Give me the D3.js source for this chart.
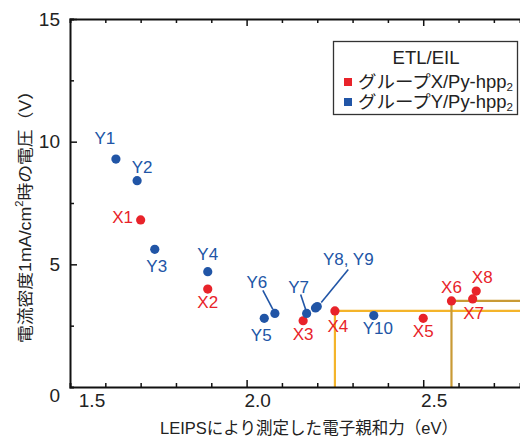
<!DOCTYPE html>
<html>
<head>
<meta charset="utf-8">
<script src="https://cdn.jsdelivr.net/npm/d3@7/dist/d3.min.js"></script>
<style>
  html, body { margin: 0; padding: 0; background: #fff; }
  svg { display: block; }
  text { font-family: "Liberation Sans", Arial, "Noto Sans CJK JP", sans-serif; }
</style>
</head>
<body>
<div id="chart"></div>
<script>
// ---------- data ----------
const pointNames   = ["Y1","Y2","X1","Y3","Y4","X2","Y5","Y6","X3","Y7","Y8","Y9","X4","Y10","X5","X6","X7","X8"];
const pointGroups  = ["Y","Y","X","Y","Y","X","Y","Y","X","Y","Y","Y","X","Y","X","X","X","X"];
const electronAffinity = [1.63,1.69,1.70,1.74,1.89,1.89,2.05,2.08,2.16,2.17,2.195,2.20,2.25,2.36,2.50,2.58,2.64,2.65];
const voltageAt1mA     = [9.29,8.41,6.81,5.61,4.70,3.99,2.80,3.00,2.70,3.00,3.22,3.28,3.10,2.91,2.80,3.51,3.59,3.91];
const xTicksMajor = [1.5, 2.0, 2.5];
const xTickLabels = ["1.5", "2.0", "2.5"];
const yTicksMajor = [0, 5, 10, 15];
const yTickLabels = ["0", "5", "10", "15"];
const legendTitle = "ETL/EIL";
const legendGroups = ["X", "Y"];
const legendNames  = ["グループX/Py-hpp", "グループY/Py-hpp"];
const guidePoints  = ["X4", "X6"];

// ---------- layout / style ----------
const W = 520, H = 441;
const colors = { X: "#e8232a", Y: "#2155a6" };
const guideColors = { X4: "#f4b42a", X6: "#c99a35" };
const annot = [
  { text: "Y1", at: "Y1", dx: -11, dy: -21 },
  { text: "Y2", at: "Y2", dx: 5, dy: -13 },
  { text: "X1", at: "X1", dx: -18, dy: -2 },
  { text: "Y3", at: "Y3", dx: 2, dy: 17 },
  { text: "Y4", at: "Y4", dx: 0, dy: -17 },
  { text: "X2", at: "X2", dx: 0, dy: 13 },
  { text: "Y5", at: "Y5", dx: -3, dy: 17 },
  { text: "Y6", at: "Y6", dx: -18, dy: -31, leader: [-2, -4, -12, -23] },
  { text: "Y7", at: "Y7", dx: -8, dy: -26, leader: [-1, -4, -6, -19] },
  { text: "X3", at: "X3", dx: 0, dy: 14 },
  { text: "Y8, Y9", at: "Y9", dx: 31, dy: -47, leader: [4, -4, 31, -37] },
  { text: "X4", at: "X4", dx: 3, dy: 16 },
  { text: "Y10", at: "Y10", dx: 4, dy: 13 },
  { text: "X5", at: "X5", dx: 0, dy: 13 },
  { text: "X6", at: "X6", dx: 0, dy: -13 },
  { text: "X7", at: "X7", dx: 1, dy: 15 },
  { text: "X8", at: "X8", dx: 6, dy: -14 }
];

const points = pointNames.map((n, i) => ({
  name: n, group: pointGroups[i], x: electronAffinity[i], y: voltageAt1mA[i]
}));
const byName = Object.fromEntries(points.map(p => [p.name, p]));

const svg = d3.select("#chart").append("svg").attr("width", W).attr("height", H);

const x = d3.scaleLinear().domain([1.5, 2.774]).range([70, 520]);
const y = d3.scaleLinear().domain([0, 15]).range([387, 19]);

const xMinor = d3.range(1.5, 2.78, 0.1).map(v => +v.toFixed(2));
const yMinor = d3.range(0, 15.01, 2.5);

// guide lines
guidePoints.forEach(n => {
  const p = byName[n];
  const g = svg.append("g").attr("stroke", guideColors[n]).attr("stroke-width", 2.2).attr("fill", "none");
  g.append("line").attr("x1", x(p.x)).attr("x2", x(p.x)).attr("y1", y(p.y)).attr("y2", y(0));
  g.append("line").attr("x1", x(p.x)).attr("x2", x.range()[1]).attr("y1", y(p.y)).attr("y2", y(p.y));
});

// axes
const axB = svg.append("g").attr("transform", `translate(0,${y(0)})`)
  .call(d3.axisBottom(x).tickValues(xMinor).tickSize(-4).tickFormat(""));
const axT = svg.append("g").attr("transform", `translate(0,${y(15)})`)
  .call(d3.axisTop(x).tickValues(xMinor).tickSize(-4).tickFormat(""));
const axL = svg.append("g").attr("transform", `translate(${x(1.5)},0)`)
  .call(d3.axisLeft(y).tickValues(yMinor).tickSize(-4).tickFormat(""));
[axB, axT, axL].forEach(g => {
  g.select(".domain").attr("stroke", "#111").attr("stroke-width", 2);
  g.selectAll(".tick line").attr("stroke", "#111").attr("stroke-width", 1.5);
});
const isMajorX = d => xTicksMajor.some(v => Math.abs(v - d) < 1e-6);
axB.selectAll(".tick line").filter(isMajorX).attr("y2", -7);
axT.selectAll(".tick line").filter(isMajorX).attr("y2", 7);
axL.selectAll(".tick line").filter(d => yTicksMajor.includes(d)).attr("x2", 7);
axL.selectAll(".tick").filter(d => d === 0).remove();
axB.selectAll(".tick").filter(d => Math.abs(d - 1.5) < 1e-6).remove();
axT.selectAll(".tick").filter(d => Math.abs(d - 1.5) < 1e-6).remove();

// tick labels
svg.append("g").selectAll("text").data(xTicksMajor).join("text")
  .attr("x", (d, i) => x(d) + (i === 0 ? 22 : 11))
  .attr("y", 400)
  .attr("text-anchor", "middle").attr("dominant-baseline", "central")
  .attr("font-size", 19).attr("fill", "#222")
  .text((d, i) => xTickLabels[i]);
svg.append("g").selectAll("text").data(yTicksMajor).join("text")
  .attr("x", 60)
  .attr("y", d => y(d) + (d === 0 ? 8 : 0))
  .attr("text-anchor", "end").attr("dominant-baseline", "central")
  .attr("font-size", 19).attr("fill", "#222")
  .text((d, i) => yTickLabels[i]);

// axis titles
svg.append("text").attr("x", 160).attr("y", 428)
  .attr("dominant-baseline", "central")
  .attr("font-size", 17).attr("fill", "#222")
  .attr("textLength", 298).attr("lengthAdjust", "spacingAndGlyphs")
  .text("LEIPSにより測定した電子親和力（eV）");
const yt = svg.append("text").attr("transform", "translate(25,343) rotate(-90)")
  .attr("dominant-baseline", "central")
  .attr("font-size", 16).attr("fill", "#222")
  .attr("textLength", 261).attr("lengthAdjust", "spacingAndGlyphs");
yt.append("tspan").text("電流密度1mA/cm");
yt.append("tspan").attr("font-size", 10).attr("dy", -6).text("2");
yt.append("tspan").attr("dy", 6).text("時の電圧（V）");

// leader lines
svg.append("g").selectAll("line").data(annot.filter(a => a.leader)).join("line")
  .attr("x1", a => x(byName[a.at].x) + a.leader[0])
  .attr("y1", a => y(byName[a.at].y) + a.leader[1])
  .attr("x2", a => x(byName[a.at].x) + a.leader[2])
  .attr("y2", a => y(byName[a.at].y) + a.leader[3])
  .attr("stroke", colors.Y).attr("stroke-width", 1.6);

// points
svg.append("g").selectAll("circle").data(points).join("circle")
  .attr("cx", d => x(d.x)).attr("cy", d => y(d.y))
  .attr("r", 4.6)
  .attr("fill", d => colors[d.group]);

// annotations
svg.append("g").selectAll("text").data(annot).join("text")
  .attr("x", a => x(byName[a.at].x) + a.dx)
  .attr("y", a => y(byName[a.at].y) + a.dy)
  .attr("text-anchor", "middle").attr("dominant-baseline", "central")
  .attr("font-size", 17)
  .attr("fill", a => colors[byName[a.at].group])
  .text(a => a.text);

// legend
const lg = svg.append("g");
lg.append("rect").attr("x", 333.5).attr("y", 41.5).attr("width", 184).attr("height", 73)
  .attr("fill", "#fff").attr("stroke", "#333").attr("stroke-width", 1.3);
lg.append("text").attr("x", 426).attr("y", 57).attr("text-anchor", "middle")
  .attr("dominant-baseline", "central").attr("font-size", 18.5).attr("fill", "#222").text(legendTitle);
legendGroups.forEach((g, i) => {
  const cy = 82 + i * 20;
  lg.append("rect").attr("x", 344).attr("y", cy - 4).attr("width", 8).attr("height", 8).attr("fill", colors[g]);
  const t = lg.append("text").attr("x", 358).attr("y", cy).attr("dominant-baseline", "central")
    .attr("font-size", 17.5).attr("fill", "#222")
    .attr("textLength", 155).attr("lengthAdjust", "spacingAndGlyphs");
  t.append("tspan").text(legendNames[i]);
  t.append("tspan").attr("font-size", 11).attr("dy", 5).text("2");
});
</script>
</body>
</html>
